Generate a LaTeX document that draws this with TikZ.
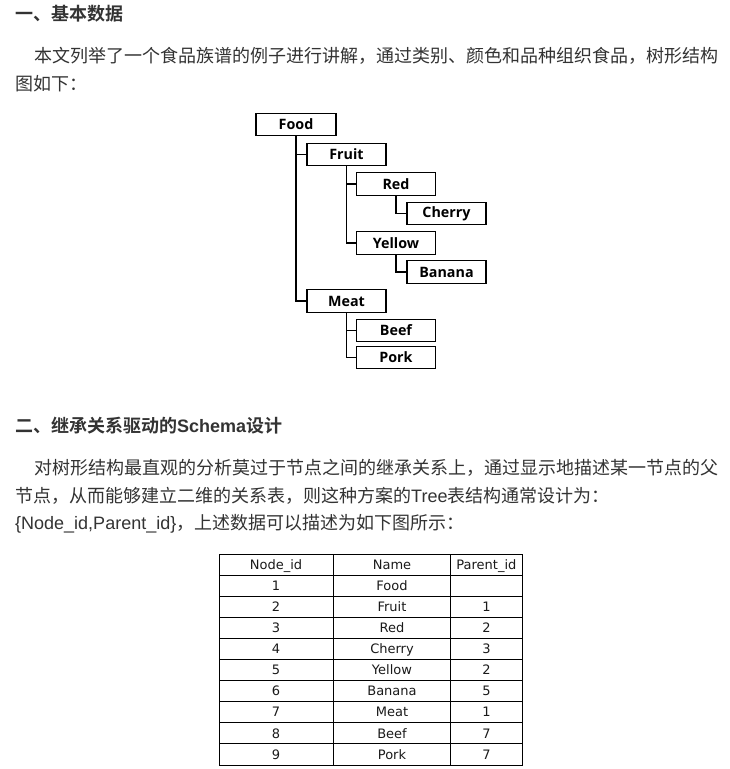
\documentclass[tikz,border=0pt]{standalone}
\usepackage{fontspec}
\newfontfamily\cjk{Noto Sans CJK SC}[BoldFont={Noto Sans CJK SC Bold}]
\newfontfamily\ltn{Liberation Sans}
\newfontfamily\tabfont{DejaVu Sans}
\newfontfamily\treefont{Open Sans}
\definecolor{bodytext}{HTML}{333333}
\definecolor{tabtext}{HTML}{1A1A1A}
\begin{document}
\begin{tikzpicture}[x=1pt,y=-1pt,
  heading/.style={anchor=base west,inner sep=0pt,text=bodytext,
    font=\cjk\bfseries\fontsize{18}{20}\selectfont},
  bodyline/.style={anchor=base west,inner sep=0pt,text=bodytext,
    font=\cjk\fontsize{18}{20}\selectfont},
  treebox/.style={draw=black,line width=1.3pt,fill=white,inner sep=0pt,
    minimum width=79pt,minimum height=22.5pt,
    font=\treefont\bfseries\fontsize{14.3}{16}\selectfont},
  treelink/.style={draw=black,line width=1.3pt},
  cell/.style={anchor=base,inner sep=0pt,text=tabtext,
    font=\tabfont\fontsize{13}{15}\selectfont},
  grid/.style={draw=black,line width=0.9pt}]
\useasboundingbox[fill=white] (0,0) rectangle (729,769);

% ---- section one ----
\node[heading] (h1) at (15,20) {一、基本数据};
\node[bodyline] (p1a) at (34,62.3) {本文列举了一个食品族谱的例子进行讲解，通过类别、颜色和品种组织食品，树形结构};
\node[bodyline] (p1b) at (15,90.8) {图如下：};

% ---- food tree ----
\node[treebox,minimum width=80pt] (food) at (296,124.5) {Food};
\node[treebox] (fruit)  at (346.5,154.5) {Fruit};
\node[treebox] (red)    at (396,184)     {Red};
\node[treebox] (cherry) at (446.5,213.5) {Cherry};
\node[treebox] (yellow) at (396,243)     {Yellow};
\node[treebox] (banana) at (446.5,272)   {Banana};
\node[treebox] (meat)   at (346.5,301)   {Meat};
\node[treebox] (beef)   at (396,330.5)   {Beef};
\node[treebox] (pork)   at (396,357.5)   {Pork};

\draw[treelink] (food.south) |- (meat.west);
\draw[treelink] (food.south) |- (fruit.west);
\draw[treelink] (fruit.south) |- (yellow.west);
\draw[treelink] (fruit.south) |- (red.west);
\draw[treelink] (red.south) |- (cherry.west);
\draw[treelink] (yellow.south) |- (banana.west);
\draw[treelink] (meat.south) |- (pork.west);
\draw[treelink] (meat.south) |- (beef.west);

% ---- section two ----
\node[heading] (h2) at (15,432.5) {二、继承关系驱动的{\ltn\bfseries Schema}设计};
\node[bodyline] (p2a) at (34,474.8) {对树形结构最直观的分析莫过于节点之间的继承关系上，通过显示地描述某一节点的父};
\node[bodyline] (p2b) at (15,502.3) {节点，从而能够建立二维的关系表，则这种方案的{\ltn Tree}表结构通常设计为：};
\node[bodyline] (p2c) at (15,529.8) {{\ltn\fontsize{18}{20}\selectfont\{Node\_id,Parent\_id\}}，上述数据可以描述为如下图所示：};

% ---- relation table ----
\draw[grid] (219,554.3) rectangle (522,765);
\foreach \i in {1,...,9} {
  \draw[grid] (219,554.3+21.07*\i) -- (522,554.3+21.07*\i);
}
\draw[grid] (333.3,554.3) -- (333.3,765);
\draw[grid] (450.7,554.3) -- (450.7,765);

\foreach \r/\a/\b/\c in {0/Node\_id/Name/Parent\_id, 1/1/Food/, 2/2/Fruit/1,
    3/3/Red/2, 4/4/Cherry/3, 5/5/Yellow/2, 6/6/Banana/5, 7/7/Meat/1,
    8/8/Beef/7, 9/9/Pork/7} {
  \node[cell] (c\r a) at (276,554.3+21.07*\r+10.5+4.7) {\a};
  \node[cell] (c\r b) at (392,554.3+21.07*\r+10.5+4.7) {\b};
  \node[cell] (c\r c) at (486.4,554.3+21.07*\r+10.5+4.7) {\c};
}
\end{tikzpicture}
\end{document}
